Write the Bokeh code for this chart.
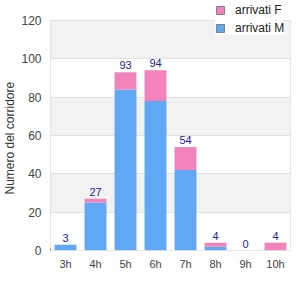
from bokeh.plotting import figure
from bokeh.models import ColumnDataSource, Legend, LegendItem, Title
from bokeh.core.properties import value
from bokeh.embed import file_html
from bokeh.resources import INLINE

hours = ["3h", "4h", "5h", "6h", "7h", "8h", "9h", "10h"]
arrivati_m = [3, 25, 84, 78, 42, 2, 0, 0]
arrivati_f = [0, 2, 9, 16, 12, 2, 0, 4]
totals = [m + f for m, f in zip(arrivati_m, arrivati_f)]
y_ticks = [0, 20, 40, 60, 80, 100, 120]

BLUE = "#60a8f4"
PINK = "#f384bb"
FONT = "Liberation Sans"
BORDER = "#d0d0d0"

source = ColumnDataSource(dict(
    hours=hours, M=arrivati_m, F=arrivati_f,
    total=totals, total_str=[str(t) for t in totals],
))

# frame spans the whole height; the value axis tops out at 120 (20 px below the top)
y_top = 120 * 250 / 230
p = figure(x_range=hours, y_range=(0, y_top), width=300, height=300,
           output_backend="svg", toolbar_location=None,
           min_border_left=50, min_border_right=10, min_border_top=0,
           min_border_bottom=50)

p.vbar_stack(["M", "F"], x="hours", width=0.73, color=[BLUE, PINK],
             line_color=None, source=source)

p.text(x="hours", y="total", text="total_str", source=source,
       text_align="center", text_baseline="bottom", y_offset=-3,
       text_font=value(FONT), text_font_size="11px", text_color="#22229a")

# frame border (left, right, bottom) up to 120
n = len(hours)
p.segment(x0=[0, n, 0], y0=[0, 0, 0], x1=[0, n, n], y1=[y_ticks[-1], y_ticks[-1], 0],
          line_color=BORDER, line_width=1)

# legend proxies (one off-screen bar each, so the legend can draw their swatches)
proxy = ColumnDataSource(dict(x=[-10], top=[1]))
rf = p.vbar(x="x", top="top", width=0.5, source=proxy, fill_color=PINK, line_color="#808080")
rm = p.vbar(x="x", top="top", width=0.5, source=proxy, fill_color=BLUE, line_color="#808080")
legend = Legend(items=[LegendItem(label="arrivati F", renderers=[rf]),
                       LegendItem(label="arrivati M", renderers=[rm])],
                location=(165, 215), glyph_width=10, glyph_height=10,
                label_height=12, spacing=4, padding=4, margin=0,
                label_standoff=10, label_text_font=FONT,
                label_text_font_size="12px", label_text_color="#222222",
                border_line_color=None, background_fill_color="white",
                background_fill_alpha=1.0)
p.add_layout(legend, "center")

p.xgrid.grid_line_color = None
p.ygrid.grid_line_color = "#e0e0e0"
p.ygrid.band_fill_color = "#f2f2f2"
p.ygrid.band_fill_alpha = 1.0
p.yaxis.ticker = y_ticks

p.outline_line_color = None

for ax in (p.xaxis[0], p.yaxis[0]):
    ax.axis_line_color = None
    ax.major_tick_line_color = None
    ax.minor_tick_line_color = None
    ax.major_tick_out = 0
    ax.major_tick_in = 0
    ax.minor_tick_out = 0
    ax.minor_tick_in = 0
    ax.major_label_text_font = FONT
    ax.major_label_text_color = "#444444"

p.yaxis.major_label_text_font_size = "12px"
p.xaxis.major_label_text_font_size = "11px"
p.yaxis.major_label_standoff = 9
p.xaxis.major_label_standoff = 7

ylabel = Title(text="Numero del corridore", align="left", offset=56,
               standoff=0, vertical_align="top", text_font=FONT,
               text_font_size="12px", text_font_style="normal",
               text_color="#333333")
p.add_layout(ylabel, "left")

open("out.html", "w").write(file_html(p, INLINE))
